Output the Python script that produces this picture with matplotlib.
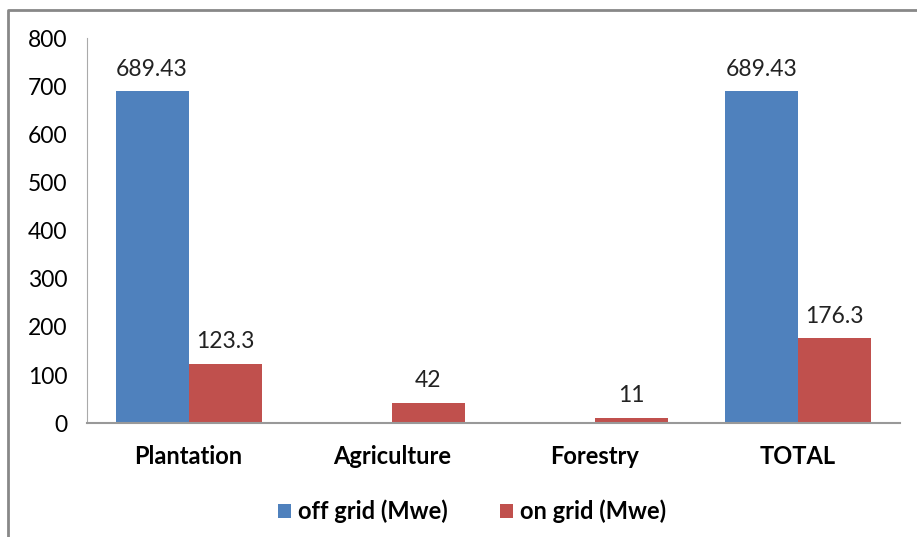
import matplotlib.pyplot as plt
import numpy as np

categories = ['Plantation', 'Agriculture', 'Forestry', 'TOTAL']
off_grid = [689.43, 0, 0, 689.43]
on_grid = [123.3, 42, 11, 176.3]
off_labels = ['689.43', '', '', '689.43']
on_labels = ['123.3', '42', '11', '176.3']

plt.rcParams['font.family'] = ['Lato', 'DejaVu Sans']

fig = plt.figure(figsize=(9.17, 5.37), dpi=100)
ax = fig.add_axes([0.095, 0.212, 0.886, 0.717])

x = np.arange(len(categories))
w = 0.36
b1 = ax.bar(x - w/2, off_grid, w, color='#4f81bd', label='off grid (Mwe)')
b2 = ax.bar(x + w/2, on_grid, w, color='#c0504d', label='on grid (Mwe)')

for rect, lab in zip(b1, off_labels):
    if lab:
        ax.text(rect.get_x() + rect.get_width()/2, rect.get_height() + 24, lab,
                ha='center', va='bottom', fontsize=16.5, color='#222222')
for rect, lab in zip(b2, on_labels):
    ax.text(rect.get_x() + rect.get_width()/2, rect.get_height() + 24, lab,
            ha='center', va='bottom', fontsize=16.5, color='#222222')

ax.set_xlim(-0.5, 3.5)
ax.set_ylim(0, 800)
ax.set_yticks(range(0, 801, 100))
ax.set_xticks(x)
ax.set_xticklabels(categories, fontsize=17, fontweight='bold')
ax.tick_params(axis='y', labelsize=16.5, length=0, pad=14)
ax.tick_params(axis='x', length=0, pad=16)
for s in ['top', 'right']:
    ax.spines[s].set_visible(False)
ax.spines['left'].set_color('#aaaaaa')
ax.spines['bottom'].set_color('#999999')
ax.spines['bottom'].set_linewidth(1.5)

fig.legend(loc='center', bbox_to_anchor=(0.515, 0.048), ncol=2, frameon=False,
           prop={'size': 17, 'weight': 'bold'}, handlelength=0.55, handleheight=0.55,
           columnspacing=2.2, handletextpad=0.3)

# outer border (partly cropped in original)
fig.add_artist(plt.Line2D([8/917, 8/917, 1], [0, 1 - 10/537, 1 - 10/537],
                          color='#888888', linewidth=2, transform=fig.transFigure))

fig.savefig('out.png', dpi=100)
